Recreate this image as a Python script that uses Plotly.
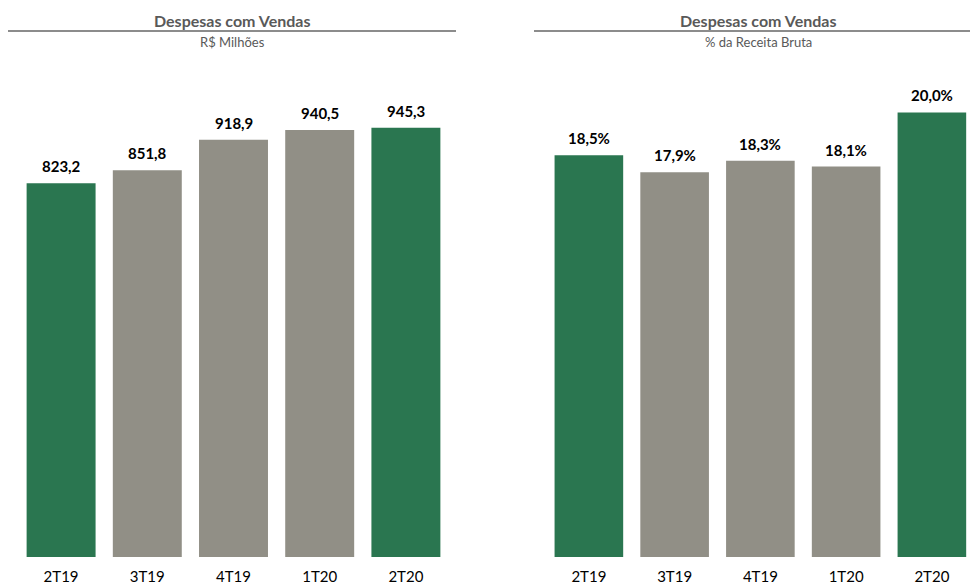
import plotly.graph_objects as go

categories = ["2T19", "3T19", "4T19", "1T20", "2T20"]
vendas_rs = [823.2, 851.8, 918.9, 940.5, 945.3]
vendas_pct = [18.5, 17.9, 18.3, 18.1, 20.0]
labels_rs = ["823,2", "851,8", "918,9", "940,5", "945,3"]
labels_pct = ["18,5%", "17,9%", "18,3%", "18,1%", "20,0%"]

GREEN = "#2A7650"
GRAY = "#918F86"
colors = [GREEN, GRAY, GRAY, GRAY, GREEN]
FONT = "Lato"

W, H = 970, 587
MT, MB = 60, 30
PH = H - MT - MB


def py(ypx):
    return 1 + (MT - ypx) / PH


fig = go.Figure()
fig.add_trace(go.Bar(x=categories, y=vendas_rs, marker=dict(color=colors, line=dict(width=0)),
                     xaxis="x", yaxis="y", hoverinfo="skip"))
fig.add_trace(go.Bar(x=categories, y=vendas_pct, marker=dict(color=colors, line=dict(width=0)),
                     xaxis="x2", yaxis="y2", hoverinfo="skip"))

annotations = []
for c, v, t in zip(categories, vendas_rs, labels_rs):
    annotations.append(dict(x=c, y=v, xref="x", yref="y", text=t, showarrow=False,
                            yanchor="middle", yshift=17,
                            font=dict(family=FONT, size=15, color="#000000", weight="bold")))
for c, v, t in zip(categories, vendas_pct, labels_pct):
    annotations.append(dict(x=c, y=v, xref="x2", yref="y2", text=t, showarrow=False,
                            yanchor="middle", yshift=17,
                            font=dict(family=FONT, size=15, color="#000000", weight="bold")))

titles = [
    (232 / W, "Despesas com Vendas", "R$ Milhões"),
    (758 / W, "Despesas com Vendas", "% da Receita Bruta"),
]
for xc, t, s in titles:
    annotations.append(dict(x=xc, y=py(20.5), xref="paper", yref="paper", text=t, showarrow=False,
                            xanchor="center", yanchor="middle",
                            font=dict(family=FONT, size=16, color="#595959", weight="bold")))
    annotations.append(dict(x=xc, y=py(42), xref="paper", yref="paper", text=s, showarrow=False,
                            xanchor="center", yanchor="middle",
                            font=dict(family=FONT, size=13, color="#595959")))

shapes = [
    dict(type="line", xref="paper", yref="paper", x0=8 / W, x1=456 / W, y0=py(31), y1=py(31),
         line=dict(color="#8C8C8C", width=2)),
    dict(type="line", xref="paper", yref="paper", x0=534 / W, x1=1.0, y0=py(31), y1=py(31),
         line=dict(color="#8C8C8C", width=2)),
]

axis_common = dict(showgrid=False, zeroline=False, showline=False, automargin=False)
fig.update_layout(
    width=W, height=H,
    margin=dict(l=0, r=0, t=MT, b=MB),
    paper_bgcolor="white", plot_bgcolor="white",
    showlegend=False, bargap=0.2,
    xaxis=dict(domain=[18 / W, 449 / W], type="category", range=[-0.5, 4.5],
               tickfont=dict(family=FONT, size=15, color="#000000"), ticks="",
               ticklabelstandoff=9, **axis_common),
    yaxis=dict(domain=[0, 1], range=[0, PH * 2.202], showticklabels=False, **axis_common),
    xaxis2=dict(domain=[546 / W, 1.0], type="category", range=[-0.5, 4.5 - 4.75 / 85.75],
                tickfont=dict(family=FONT, size=15, color="#000000"), ticks="",
                ticklabelstandoff=9, anchor="y2", **axis_common),
    yaxis2=dict(domain=[0, 1], range=[4.4, 4.4 + PH / 28.5], showticklabels=False,
                anchor="x2", **axis_common),
    annotations=annotations,
    shapes=shapes,
)

fig.write_html("out.html", config={"displayModeBar": False, "staticPlot": True},
               post_script="document.body.style.margin='0';document.body.style.overflow='hidden';")
